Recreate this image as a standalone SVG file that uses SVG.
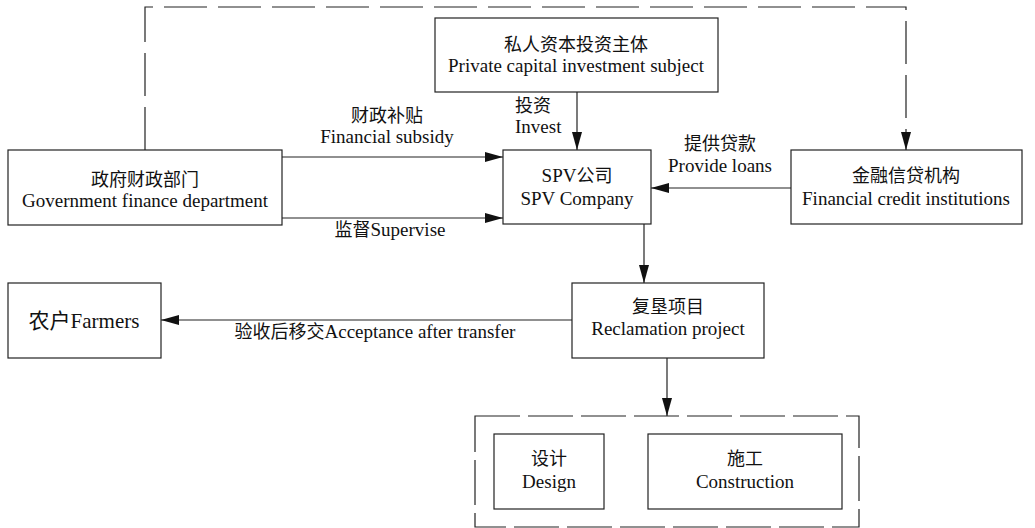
<svg xmlns="http://www.w3.org/2000/svg" width="1035" height="528" viewBox="0 0 1035 528">
<style>
.box{fill:#fff;stroke:#222;stroke-width:1.2}
.ln{fill:none;stroke:#222;stroke-width:1.2}
.dash{fill:none;stroke:#222;stroke-width:1.2;stroke-dasharray:43,11}
.dash2{fill:none;stroke:#222;stroke-width:1.2;stroke-dasharray:45,8}
text{font-family:"Liberation Serif","Times New Roman",serif;font-size:19px;fill:#111;text-anchor:middle}
.zh{font-family:"Noto Sans CJK SC","Noto Sans CJK TC",sans-serif;font-size:18px}
.big{font-size:21px}
.l{text-anchor:start}
</style>
<defs>
<marker id="ah" viewBox="0 0 18 10" refX="18" refY="5" markerWidth="18" markerHeight="10" markerUnits="userSpaceOnUse" orient="auto">
<path d="M0,0 L18,5 L0,10 Z" fill="#111"/>
</marker>
</defs>
<rect width="1035" height="528" fill="#fff"/>
<g id="connectors">
<path class="dash" d="M145,150 V7 H906 V150" marker-end="url(#ah)"/>
<path class="ln" d="M282,157 H503" marker-end="url(#ah)"/>
<path class="ln" d="M282,218 H503" marker-end="url(#ah)"/>
<path class="ln" d="M577,92 V150" marker-end="url(#ah)"/>
<path class="ln" d="M791,188 H651" marker-end="url(#ah)"/>
<path class="ln" d="M644,224 V283" marker-end="url(#ah)"/>
<path class="ln" d="M572,320 H161" marker-end="url(#ah)"/>
<path class="ln" d="M667,358 V416" marker-end="url(#ah)"/>
<text class="zh" x="387" y="122">财政补贴</text>
<text x="387" y="143">Financial subsidy</text>
<text x="390" y="236"><tspan class="zh">监督</tspan>Supervise</text>
<text class="zh l" x="515" y="112">投资</text>
<text class="l" x="515" y="133">Invest</text>
<text class="zh" x="720" y="150">提供贷款</text>
<text x="720" y="172">Provide loans</text>
<text x="375" y="338"><tspan class="zh">验收后移交</tspan>Acceptance after transfer</text>
</g>
<g id="gov">
<rect class="box" x="8" y="150" width="274" height="75"/>
<text class="zh" x="145" y="186">政府财政部门</text>
<text x="145" y="207">Government finance department</text>
</g>
<g id="private">
<rect class="box" x="435" y="18" width="283" height="74"/>
<text class="zh" x="576" y="51">私人资本投资主体</text>
<text x="576" y="72">Private capital investment subject</text>
</g>
<g id="spv">
<rect class="box" x="503" y="150" width="148" height="74"/>
<text x="577" y="182">SPV<tspan class="zh">公司</tspan></text>
<text x="577" y="205">SPV Company</text>
</g>
<g id="fin">
<rect class="box" x="791" y="150" width="231" height="74"/>
<text class="zh" x="906" y="182">金融信贷机构</text>
<text x="906" y="205">Financial credit institutions</text>
</g>
<g id="farmers">
<rect class="box" x="8" y="283" width="153" height="75"/>
<text class="big" x="84" y="328"><tspan class="zh big">农户</tspan>Farmers</text>
</g>
<g id="reclamation">
<rect class="box" x="572" y="283" width="192" height="75"/>
<text class="zh" x="668" y="313">复垦项目</text>
<text x="668" y="335">Reclamation project</text>
</g>
<g id="container">
<rect class="dash2" x="475" y="416" width="384" height="111"/>
</g>
<g id="design">
<rect class="box" x="494" y="434" width="110" height="75"/>
<text class="zh" x="549" y="465">设计</text>
<text x="549" y="488">Design</text>
</g>
<g id="construction">
<rect class="box" x="648" y="434" width="194" height="75"/>
<text class="zh" x="745" y="465">施工</text>
<text x="745" y="488">Construction</text>
</g>
</svg>
